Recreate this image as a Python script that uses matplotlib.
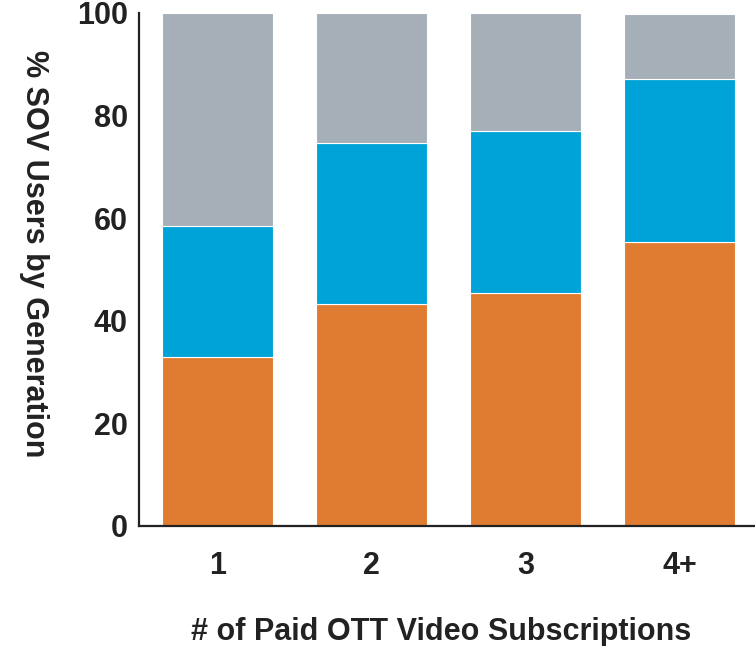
import numpy as np
import matplotlib
matplotlib.use("Agg")
import matplotlib.pyplot as plt

plt.rcParams['font.family'] = ['Liberation Sans', 'DejaVu Sans']

categories = ['1', '2', '3', '4+']
orange = [33.0, 43.3, 45.3, 55.4]
blue = [25.5, 31.4, 31.6, 31.7]
gray = [41.5, 25.3, 23.1, 12.6]

c_orange = '#E07C31'
c_blue = '#00A3D8'
c_gray = '#A6AFB8'
txt = '#222222'

fig = plt.figure(figsize=(7.55, 6.46), dpi=100)
ax = fig.add_axes([0.184, 0.186, 0.816, 0.794])

x = np.arange(len(categories))
w = 0.715
ax.bar(x, orange, w, color=c_orange, edgecolor='white', linewidth=0.8)
ax.bar(x, blue, w, bottom=orange, color=c_blue, edgecolor='white', linewidth=0.8)
ax.bar(x, gray, w, bottom=np.array(orange) + np.array(blue), color=c_gray,
       edgecolor='white', linewidth=0.8)

ax.set_xlim(-0.51, 3.49)
ax.set_ylim(0, 100)
ax.set_yticks([0, 20, 40, 60, 80, 100])
ax.set_xticks(x)
ax.set_xticklabels(categories)
ax.tick_params(length=0, labelsize=22, colors=txt)
ax.tick_params(axis='y', pad=8)
ax.tick_params(axis='x', pad=18)
for lab in ax.get_xticklabels() + ax.get_yticklabels():
    lab.set_fontweight('bold')

for s in ['top', 'right']:
    ax.spines[s].set_visible(False)
for s in ['left', 'bottom']:
    ax.spines[s].set_color(txt)
    ax.spines[s].set_linewidth(1.6)

ax.set_ylabel('% SOV Users by Generation', fontsize=22, fontweight='bold',
              color=txt, rotation=270, va='center', ha='center')
ax.yaxis.set_label_coords(-0.170, 0.53)
ax.set_xlabel('# of Paid OTT Video Subscriptions', fontsize=22, fontweight='bold',
              color=txt, va='center')
ax.xaxis.set_label_coords(0.49, -0.207)

fig.savefig('out.png', dpi=100)
